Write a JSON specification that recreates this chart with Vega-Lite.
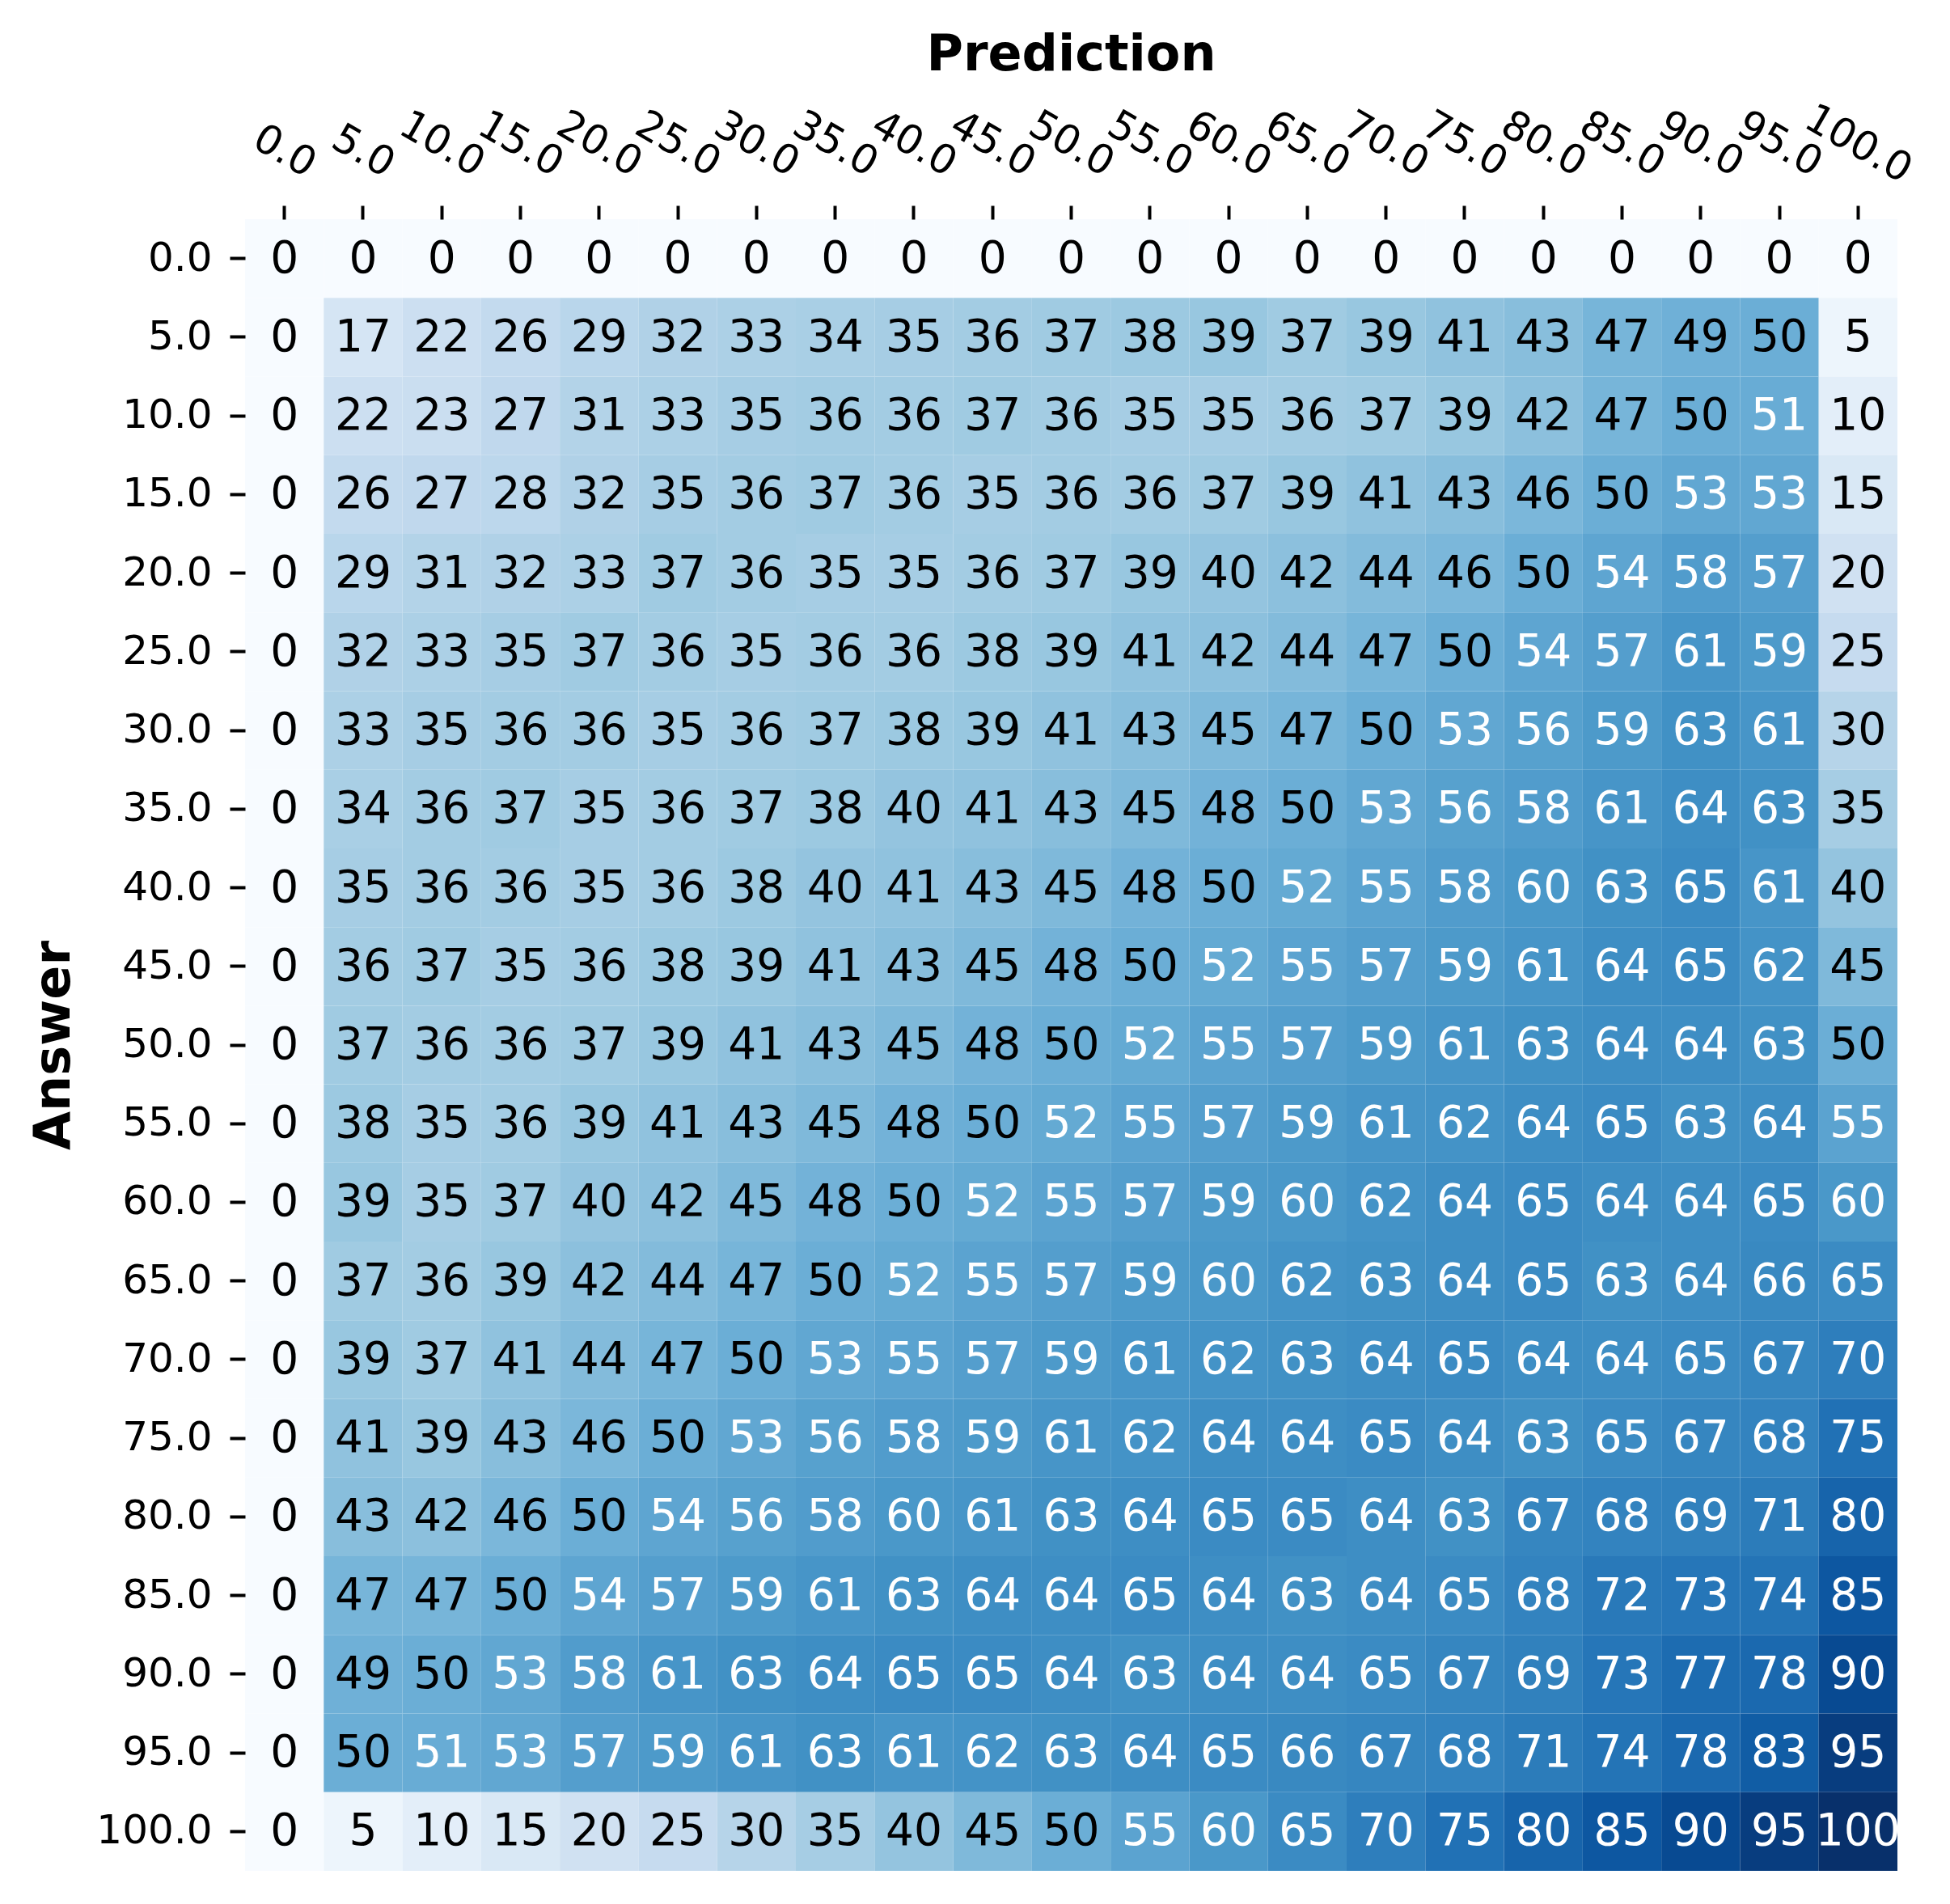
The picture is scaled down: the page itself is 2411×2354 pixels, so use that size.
{
"$schema": "https://vega.github.io/schema/vega-lite/v6.json",
"autosize": {"type": "none"},
"padding": {"left": 303, "top": 271, "right": 65, "bottom": 41},
"width": 2043,
"height": 2042,
"background": "white",
"config": {"view": {"stroke": null}, "font": "DejaVu Sans"},
"data": {"values": [
{"a":0,"p":0,"v":0},{"a":0,"p":5,"v":0},{"a":0,"p":10,"v":0},{"a":0,"p":15,"v":0},{"a":0,"p":20,"v":0},{"a":0,"p":25,"v":0},{"a":0,"p":30,"v":0},{"a":0,"p":35,"v":0},{"a":0,"p":40,"v":0},{"a":0,"p":45,"v":0},{"a":0,"p":50,"v":0},{"a":0,"p":55,"v":0},{"a":0,"p":60,"v":0},{"a":0,"p":65,"v":0},{"a":0,"p":70,"v":0},{"a":0,"p":75,"v":0},{"a":0,"p":80,"v":0},{"a":0,"p":85,"v":0},{"a":0,"p":90,"v":0},{"a":0,"p":95,"v":0},{"a":0,"p":100,"v":0},
{"a":5,"p":0,"v":0},{"a":5,"p":5,"v":17},{"a":5,"p":10,"v":22},{"a":5,"p":15,"v":26},{"a":5,"p":20,"v":29},{"a":5,"p":25,"v":32},{"a":5,"p":30,"v":33},{"a":5,"p":35,"v":34},{"a":5,"p":40,"v":35},{"a":5,"p":45,"v":36},{"a":5,"p":50,"v":37},{"a":5,"p":55,"v":38},{"a":5,"p":60,"v":39},{"a":5,"p":65,"v":37},{"a":5,"p":70,"v":39},{"a":5,"p":75,"v":41},{"a":5,"p":80,"v":43},{"a":5,"p":85,"v":47},{"a":5,"p":90,"v":49},{"a":5,"p":95,"v":50},{"a":5,"p":100,"v":5},
{"a":10,"p":0,"v":0},{"a":10,"p":5,"v":22},{"a":10,"p":10,"v":23},{"a":10,"p":15,"v":27},{"a":10,"p":20,"v":31},{"a":10,"p":25,"v":33},{"a":10,"p":30,"v":35},{"a":10,"p":35,"v":36},{"a":10,"p":40,"v":36},{"a":10,"p":45,"v":37},{"a":10,"p":50,"v":36},{"a":10,"p":55,"v":35},{"a":10,"p":60,"v":35},{"a":10,"p":65,"v":36},{"a":10,"p":70,"v":37},{"a":10,"p":75,"v":39},{"a":10,"p":80,"v":42},{"a":10,"p":85,"v":47},{"a":10,"p":90,"v":50},{"a":10,"p":95,"v":51},{"a":10,"p":100,"v":10},
{"a":15,"p":0,"v":0},{"a":15,"p":5,"v":26},{"a":15,"p":10,"v":27},{"a":15,"p":15,"v":28},{"a":15,"p":20,"v":32},{"a":15,"p":25,"v":35},{"a":15,"p":30,"v":36},{"a":15,"p":35,"v":37},{"a":15,"p":40,"v":36},{"a":15,"p":45,"v":35},{"a":15,"p":50,"v":36},{"a":15,"p":55,"v":36},{"a":15,"p":60,"v":37},{"a":15,"p":65,"v":39},{"a":15,"p":70,"v":41},{"a":15,"p":75,"v":43},{"a":15,"p":80,"v":46},{"a":15,"p":85,"v":50},{"a":15,"p":90,"v":53},{"a":15,"p":95,"v":53},{"a":15,"p":100,"v":15},
{"a":20,"p":0,"v":0},{"a":20,"p":5,"v":29},{"a":20,"p":10,"v":31},{"a":20,"p":15,"v":32},{"a":20,"p":20,"v":33},{"a":20,"p":25,"v":37},{"a":20,"p":30,"v":36},{"a":20,"p":35,"v":35},{"a":20,"p":40,"v":35},{"a":20,"p":45,"v":36},{"a":20,"p":50,"v":37},{"a":20,"p":55,"v":39},{"a":20,"p":60,"v":40},{"a":20,"p":65,"v":42},{"a":20,"p":70,"v":44},{"a":20,"p":75,"v":46},{"a":20,"p":80,"v":50},{"a":20,"p":85,"v":54},{"a":20,"p":90,"v":58},{"a":20,"p":95,"v":57},{"a":20,"p":100,"v":20},
{"a":25,"p":0,"v":0},{"a":25,"p":5,"v":32},{"a":25,"p":10,"v":33},{"a":25,"p":15,"v":35},{"a":25,"p":20,"v":37},{"a":25,"p":25,"v":36},{"a":25,"p":30,"v":35},{"a":25,"p":35,"v":36},{"a":25,"p":40,"v":36},{"a":25,"p":45,"v":38},{"a":25,"p":50,"v":39},{"a":25,"p":55,"v":41},{"a":25,"p":60,"v":42},{"a":25,"p":65,"v":44},{"a":25,"p":70,"v":47},{"a":25,"p":75,"v":50},{"a":25,"p":80,"v":54},{"a":25,"p":85,"v":57},{"a":25,"p":90,"v":61},{"a":25,"p":95,"v":59},{"a":25,"p":100,"v":25},
{"a":30,"p":0,"v":0},{"a":30,"p":5,"v":33},{"a":30,"p":10,"v":35},{"a":30,"p":15,"v":36},{"a":30,"p":20,"v":36},{"a":30,"p":25,"v":35},{"a":30,"p":30,"v":36},{"a":30,"p":35,"v":37},{"a":30,"p":40,"v":38},{"a":30,"p":45,"v":39},{"a":30,"p":50,"v":41},{"a":30,"p":55,"v":43},{"a":30,"p":60,"v":45},{"a":30,"p":65,"v":47},{"a":30,"p":70,"v":50},{"a":30,"p":75,"v":53},{"a":30,"p":80,"v":56},{"a":30,"p":85,"v":59},{"a":30,"p":90,"v":63},{"a":30,"p":95,"v":61},{"a":30,"p":100,"v":30},
{"a":35,"p":0,"v":0},{"a":35,"p":5,"v":34},{"a":35,"p":10,"v":36},{"a":35,"p":15,"v":37},{"a":35,"p":20,"v":35},{"a":35,"p":25,"v":36},{"a":35,"p":30,"v":37},{"a":35,"p":35,"v":38},{"a":35,"p":40,"v":40},{"a":35,"p":45,"v":41},{"a":35,"p":50,"v":43},{"a":35,"p":55,"v":45},{"a":35,"p":60,"v":48},{"a":35,"p":65,"v":50},{"a":35,"p":70,"v":53},{"a":35,"p":75,"v":56},{"a":35,"p":80,"v":58},{"a":35,"p":85,"v":61},{"a":35,"p":90,"v":64},{"a":35,"p":95,"v":63},{"a":35,"p":100,"v":35},
{"a":40,"p":0,"v":0},{"a":40,"p":5,"v":35},{"a":40,"p":10,"v":36},{"a":40,"p":15,"v":36},{"a":40,"p":20,"v":35},{"a":40,"p":25,"v":36},{"a":40,"p":30,"v":38},{"a":40,"p":35,"v":40},{"a":40,"p":40,"v":41},{"a":40,"p":45,"v":43},{"a":40,"p":50,"v":45},{"a":40,"p":55,"v":48},{"a":40,"p":60,"v":50},{"a":40,"p":65,"v":52},{"a":40,"p":70,"v":55},{"a":40,"p":75,"v":58},{"a":40,"p":80,"v":60},{"a":40,"p":85,"v":63},{"a":40,"p":90,"v":65},{"a":40,"p":95,"v":61},{"a":40,"p":100,"v":40},
{"a":45,"p":0,"v":0},{"a":45,"p":5,"v":36},{"a":45,"p":10,"v":37},{"a":45,"p":15,"v":35},{"a":45,"p":20,"v":36},{"a":45,"p":25,"v":38},{"a":45,"p":30,"v":39},{"a":45,"p":35,"v":41},{"a":45,"p":40,"v":43},{"a":45,"p":45,"v":45},{"a":45,"p":50,"v":48},{"a":45,"p":55,"v":50},{"a":45,"p":60,"v":52},{"a":45,"p":65,"v":55},{"a":45,"p":70,"v":57},{"a":45,"p":75,"v":59},{"a":45,"p":80,"v":61},{"a":45,"p":85,"v":64},{"a":45,"p":90,"v":65},{"a":45,"p":95,"v":62},{"a":45,"p":100,"v":45},
{"a":50,"p":0,"v":0},{"a":50,"p":5,"v":37},{"a":50,"p":10,"v":36},{"a":50,"p":15,"v":36},{"a":50,"p":20,"v":37},{"a":50,"p":25,"v":39},{"a":50,"p":30,"v":41},{"a":50,"p":35,"v":43},{"a":50,"p":40,"v":45},{"a":50,"p":45,"v":48},{"a":50,"p":50,"v":50},{"a":50,"p":55,"v":52},{"a":50,"p":60,"v":55},{"a":50,"p":65,"v":57},{"a":50,"p":70,"v":59},{"a":50,"p":75,"v":61},{"a":50,"p":80,"v":63},{"a":50,"p":85,"v":64},{"a":50,"p":90,"v":64},{"a":50,"p":95,"v":63},{"a":50,"p":100,"v":50},
{"a":55,"p":0,"v":0},{"a":55,"p":5,"v":38},{"a":55,"p":10,"v":35},{"a":55,"p":15,"v":36},{"a":55,"p":20,"v":39},{"a":55,"p":25,"v":41},{"a":55,"p":30,"v":43},{"a":55,"p":35,"v":45},{"a":55,"p":40,"v":48},{"a":55,"p":45,"v":50},{"a":55,"p":50,"v":52},{"a":55,"p":55,"v":55},{"a":55,"p":60,"v":57},{"a":55,"p":65,"v":59},{"a":55,"p":70,"v":61},{"a":55,"p":75,"v":62},{"a":55,"p":80,"v":64},{"a":55,"p":85,"v":65},{"a":55,"p":90,"v":63},{"a":55,"p":95,"v":64},{"a":55,"p":100,"v":55},
{"a":60,"p":0,"v":0},{"a":60,"p":5,"v":39},{"a":60,"p":10,"v":35},{"a":60,"p":15,"v":37},{"a":60,"p":20,"v":40},{"a":60,"p":25,"v":42},{"a":60,"p":30,"v":45},{"a":60,"p":35,"v":48},{"a":60,"p":40,"v":50},{"a":60,"p":45,"v":52},{"a":60,"p":50,"v":55},{"a":60,"p":55,"v":57},{"a":60,"p":60,"v":59},{"a":60,"p":65,"v":60},{"a":60,"p":70,"v":62},{"a":60,"p":75,"v":64},{"a":60,"p":80,"v":65},{"a":60,"p":85,"v":64},{"a":60,"p":90,"v":64},{"a":60,"p":95,"v":65},{"a":60,"p":100,"v":60},
{"a":65,"p":0,"v":0},{"a":65,"p":5,"v":37},{"a":65,"p":10,"v":36},{"a":65,"p":15,"v":39},{"a":65,"p":20,"v":42},{"a":65,"p":25,"v":44},{"a":65,"p":30,"v":47},{"a":65,"p":35,"v":50},{"a":65,"p":40,"v":52},{"a":65,"p":45,"v":55},{"a":65,"p":50,"v":57},{"a":65,"p":55,"v":59},{"a":65,"p":60,"v":60},{"a":65,"p":65,"v":62},{"a":65,"p":70,"v":63},{"a":65,"p":75,"v":64},{"a":65,"p":80,"v":65},{"a":65,"p":85,"v":63},{"a":65,"p":90,"v":64},{"a":65,"p":95,"v":66},{"a":65,"p":100,"v":65},
{"a":70,"p":0,"v":0},{"a":70,"p":5,"v":39},{"a":70,"p":10,"v":37},{"a":70,"p":15,"v":41},{"a":70,"p":20,"v":44},{"a":70,"p":25,"v":47},{"a":70,"p":30,"v":50},{"a":70,"p":35,"v":53},{"a":70,"p":40,"v":55},{"a":70,"p":45,"v":57},{"a":70,"p":50,"v":59},{"a":70,"p":55,"v":61},{"a":70,"p":60,"v":62},{"a":70,"p":65,"v":63},{"a":70,"p":70,"v":64},{"a":70,"p":75,"v":65},{"a":70,"p":80,"v":64},{"a":70,"p":85,"v":64},{"a":70,"p":90,"v":65},{"a":70,"p":95,"v":67},{"a":70,"p":100,"v":70},
{"a":75,"p":0,"v":0},{"a":75,"p":5,"v":41},{"a":75,"p":10,"v":39},{"a":75,"p":15,"v":43},{"a":75,"p":20,"v":46},{"a":75,"p":25,"v":50},{"a":75,"p":30,"v":53},{"a":75,"p":35,"v":56},{"a":75,"p":40,"v":58},{"a":75,"p":45,"v":59},{"a":75,"p":50,"v":61},{"a":75,"p":55,"v":62},{"a":75,"p":60,"v":64},{"a":75,"p":65,"v":64},{"a":75,"p":70,"v":65},{"a":75,"p":75,"v":64},{"a":75,"p":80,"v":63},{"a":75,"p":85,"v":65},{"a":75,"p":90,"v":67},{"a":75,"p":95,"v":68},{"a":75,"p":100,"v":75},
{"a":80,"p":0,"v":0},{"a":80,"p":5,"v":43},{"a":80,"p":10,"v":42},{"a":80,"p":15,"v":46},{"a":80,"p":20,"v":50},{"a":80,"p":25,"v":54},{"a":80,"p":30,"v":56},{"a":80,"p":35,"v":58},{"a":80,"p":40,"v":60},{"a":80,"p":45,"v":61},{"a":80,"p":50,"v":63},{"a":80,"p":55,"v":64},{"a":80,"p":60,"v":65},{"a":80,"p":65,"v":65},{"a":80,"p":70,"v":64},{"a":80,"p":75,"v":63},{"a":80,"p":80,"v":67},{"a":80,"p":85,"v":68},{"a":80,"p":90,"v":69},{"a":80,"p":95,"v":71},{"a":80,"p":100,"v":80},
{"a":85,"p":0,"v":0},{"a":85,"p":5,"v":47},{"a":85,"p":10,"v":47},{"a":85,"p":15,"v":50},{"a":85,"p":20,"v":54},{"a":85,"p":25,"v":57},{"a":85,"p":30,"v":59},{"a":85,"p":35,"v":61},{"a":85,"p":40,"v":63},{"a":85,"p":45,"v":64},{"a":85,"p":50,"v":64},{"a":85,"p":55,"v":65},{"a":85,"p":60,"v":64},{"a":85,"p":65,"v":63},{"a":85,"p":70,"v":64},{"a":85,"p":75,"v":65},{"a":85,"p":80,"v":68},{"a":85,"p":85,"v":72},{"a":85,"p":90,"v":73},{"a":85,"p":95,"v":74},{"a":85,"p":100,"v":85},
{"a":90,"p":0,"v":0},{"a":90,"p":5,"v":49},{"a":90,"p":10,"v":50},{"a":90,"p":15,"v":53},{"a":90,"p":20,"v":58},{"a":90,"p":25,"v":61},{"a":90,"p":30,"v":63},{"a":90,"p":35,"v":64},{"a":90,"p":40,"v":65},{"a":90,"p":45,"v":65},{"a":90,"p":50,"v":64},{"a":90,"p":55,"v":63},{"a":90,"p":60,"v":64},{"a":90,"p":65,"v":64},{"a":90,"p":70,"v":65},{"a":90,"p":75,"v":67},{"a":90,"p":80,"v":69},{"a":90,"p":85,"v":73},{"a":90,"p":90,"v":77},{"a":90,"p":95,"v":78},{"a":90,"p":100,"v":90},
{"a":95,"p":0,"v":0},{"a":95,"p":5,"v":50},{"a":95,"p":10,"v":51},{"a":95,"p":15,"v":53},{"a":95,"p":20,"v":57},{"a":95,"p":25,"v":59},{"a":95,"p":30,"v":61},{"a":95,"p":35,"v":63},{"a":95,"p":40,"v":61},{"a":95,"p":45,"v":62},{"a":95,"p":50,"v":63},{"a":95,"p":55,"v":64},{"a":95,"p":60,"v":65},{"a":95,"p":65,"v":66},{"a":95,"p":70,"v":67},{"a":95,"p":75,"v":68},{"a":95,"p":80,"v":71},{"a":95,"p":85,"v":74},{"a":95,"p":90,"v":78},{"a":95,"p":95,"v":83},{"a":95,"p":100,"v":95},
{"a":100,"p":0,"v":0},{"a":100,"p":5,"v":5},{"a":100,"p":10,"v":10},{"a":100,"p":15,"v":15},{"a":100,"p":20,"v":20},{"a":100,"p":25,"v":25},{"a":100,"p":30,"v":30},{"a":100,"p":35,"v":35},{"a":100,"p":40,"v":40},{"a":100,"p":45,"v":45},{"a":100,"p":50,"v":50},{"a":100,"p":55,"v":55},{"a":100,"p":60,"v":60},{"a":100,"p":65,"v":65},{"a":100,"p":70,"v":70},{"a":100,"p":75,"v":75},{"a":100,"p":80,"v":80},{"a":100,"p":85,"v":85},{"a":100,"p":90,"v":90},{"a":100,"p":95,"v":95},{"a":100,"p":100,"v":100}
]},
"encoding": {
  "x": {"field": "p", "type": "ordinal", "sort": "ascending",
    "scale": {"paddingInner": 0, "paddingOuter": 0},
    "axis": {"orient": "top", "title": "Prediction", "labelExpr": "format(datum.value, '.1f')",
      "labelAngle": 30, "labelAlign": "center", "labelBaseline": "middle",
      "labelPadding": {"condition": {"test": "datum.value < 10", "value": 67}, "value": 76},
      "labelOffset": 0,
      "labelFont": "DejaVu Sans", "labelFontSize": 50, "labelColor": "black",
      "tickSize": 17, "tickWidth": 4, "tickColor": "black", "domain": false, "grid": false,
      "titleFont": "DejaVu Sans", "titleFontSize": 62, "titleFontWeight": "bold", "titleColor": "black",
      "titleX": 1021, "titleY": -185, "titleAlign": "center", "titleBaseline": "alphabetic", "titleAngle": 0}},
  "y": {"field": "a", "type": "ordinal", "sort": "ascending",
    "scale": {"paddingInner": 0, "paddingOuter": 0},
    "axis": {"orient": "left", "title": "Answer", "labelExpr": "format(datum.value, '.1f')",
      "labelAngle": 0, "labelAlign": "right", "labelBaseline": "middle", "labelPadding": 22,
      "labelFont": "DejaVu Sans", "labelFontSize": 50, "labelColor": "black",
      "tickSize": 19, "tickWidth": 4, "tickColor": "black", "domain": false, "grid": false,
      "titleFont": "DejaVu Sans", "titleFontSize": 62, "titleFontWeight": "bold", "titleColor": "black",
      "titleX": -218, "titleY": 1021, "titleAlign": "center", "titleBaseline": "alphabetic", "titleAngle": -90}}
},
"layer": [
  {"mark": {"type": "rect"},
   "encoding": {"color": {"field": "v", "type": "quantitative", "legend": null,
     "scale": {"type": "linear", "domain": [0, 12.5, 25, 37.5, 50, 62.5, 75, 87.5, 100],
       "range": ["#f7fbff", "#deebf7", "#c6dbef", "#9ecae1", "#6baed6", "#4292c6", "#2171b5", "#08519c", "#08306b"],
       "interpolate": "rgb"}}}},
  {"mark": {"type": "text", "font": "DejaVu Sans", "fontSize": 55, "baseline": "middle", "align": "center"},
   "encoding": {"text": {"field": "v", "type": "quantitative", "format": "d"},
     "color": {"condition": {"test": "datum.v >= 51", "value": "white"}, "value": "black"}}}
]
}
